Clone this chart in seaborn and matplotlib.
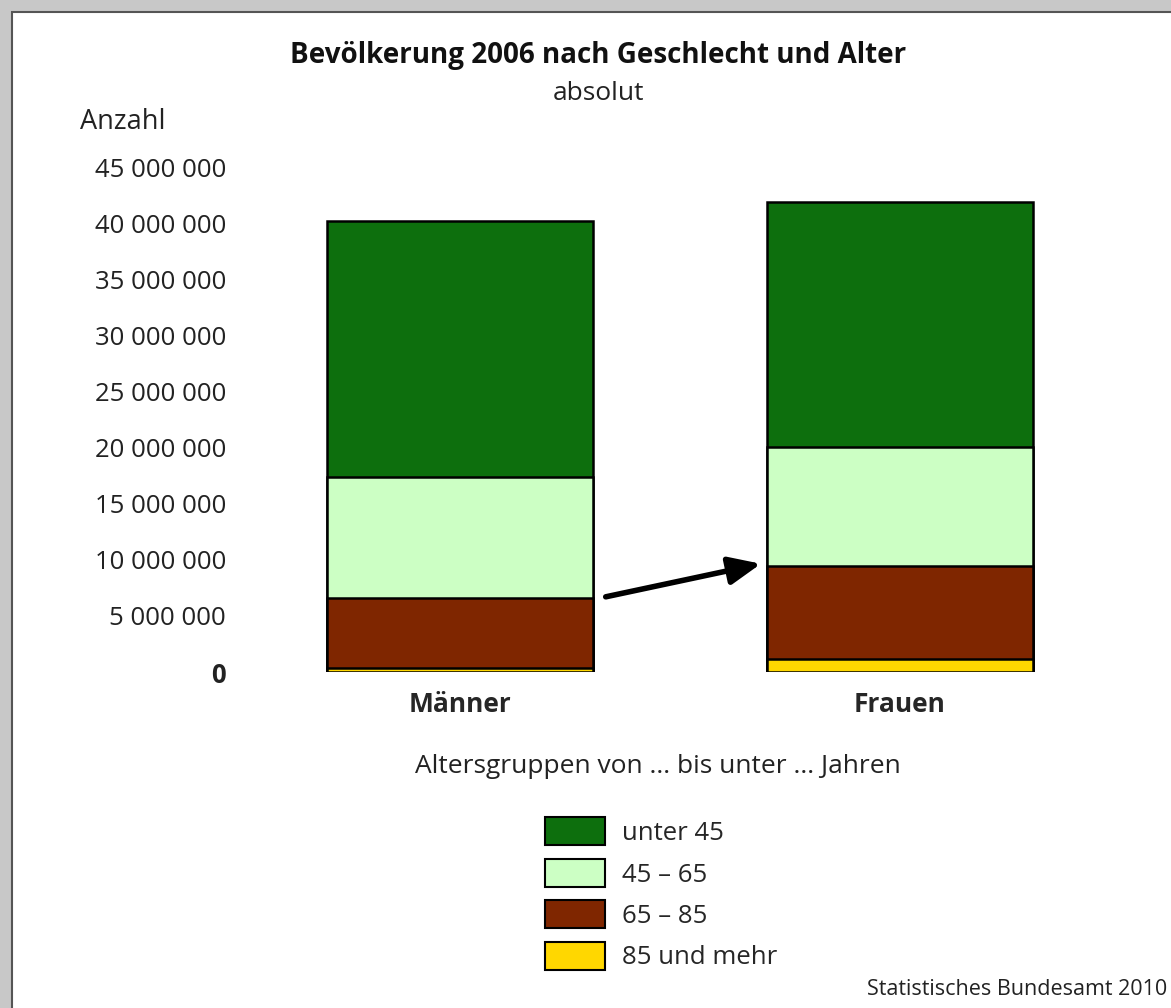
import matplotlib
matplotlib.use("Agg")
import matplotlib.pyplot as plt
import seaborn as sns
import numpy as np
from matplotlib.patches import Rectangle, Patch
from matplotlib.ticker import FuncFormatter

# data (persons)
geschlecht = ["Männer", "Frauen"]
altersgruppen = ["unter 45", "45 – 65", "65 – 85", "85 und mehr"]
unter45 = [22800000, 21850000]
von45bis65 = [10800000, 10600000]
von65bis85 = [6200000, 8300000]
ab85 = [400000, 1150000]
farben = ["#0d6f0d", "#ccffc4", "#7f2600", "#ffd700"]

sns.set_theme(style="white")
plt.rcParams["font.family"] = ["Open Sans", "DejaVu Sans"]

fig = plt.figure(figsize=(11.71, 10.08), dpi=100)
fig.patch.set_facecolor("#c8c8c8")
fig.patches.append(Rectangle((12 / 1171, -0.1), 1.2, 1.1 - 12 / 1008,
                             transform=fig.transFigure, facecolor="white",
                             edgecolor="#555555", linewidth=1.5, zorder=-10))

ax = fig.add_axes([240 / 1171, 0.3333, 880 / 1171, 0.501])
ax.set_facecolor("none")

# stacked bars: draw cumulative sums, biggest first
schichten = [unter45, von45bis65, von65bis85, ab85]
kum = np.cumsum(np.array(schichten[::-1]), axis=0)[::-1]
for werte, farbe in zip(kum, farben):
    sns.barplot(x=geschlecht, y=werte, color=farbe, saturation=1, width=0.605,
                edgecolor="black", linewidth=1.8, ax=ax)

ax.set_ylim(0, 45000000)
ax.set_yticks(np.arange(0, 45000001, 5000000))
ax.yaxis.set_major_formatter(FuncFormatter(lambda v, p: f"{v:,.0f}".replace(",", " ")))
ax.tick_params(axis="y", length=0, pad=10, labelsize=18.5, labelcolor="#222222")
ax.tick_params(axis="x", length=0, pad=14, labelsize=19)
for t in ax.get_xticklabels():
    t.set_fontweight("bold")
ax.get_yticklabels()[0].set_fontweight("bold")
for s in ax.spines.values():
    s.set_visible(False)
ax.set_xlabel("")
ax.set_ylabel("")

# arrow: 65+ rise from Männer to Frauen
m65 = von65bis85[0] + ab85[0]
f65 = von65bis85[1] + ab85[1]
ax.annotate("", xy=(0.69, f65 + 250000), xytext=(0.325, m65 + 50000),
            arrowprops=dict(arrowstyle="-|>,head_length=1.6,head_width=0.7",
                            color="black", lw=4))

fig.text(0.511, 0.945, "Bevölkerung 2006 nach Geschlecht und Alter",
         ha="center", va="center", fontsize=20, fontweight="bold", color="#111111")
fig.text(0.511, 0.907, "absolut", ha="center", va="center", fontsize=19, color="#222222")
fig.text(0.068, 0.879, "Anzahl", ha="left", va="center", fontsize=19.5, color="#222222")
fig.text(0.562, 0.240, "Altersgruppen von ... bis unter ... Jahren",
         ha="center", va="center", fontsize=19, color="#222222")
fig.text(0.997, 0.008, "Statistisches Bundesamt 2010", ha="right", va="bottom",
         fontsize=15.5, color="#222222")

handles = [Patch(facecolor=c, edgecolor="black", linewidth=1.5) for c in farben]
fig.legend(handles, altersgruppen, loc="upper left", bbox_to_anchor=(0.465, 0.189),
           frameon=False, fontsize=18.5, handlelength=2.35, handleheight=1.3,
           labelspacing=0.5, handletextpad=0.65, borderaxespad=0, borderpad=0)

fig.savefig("out.png", dpi=100, facecolor=fig.get_facecolor())
